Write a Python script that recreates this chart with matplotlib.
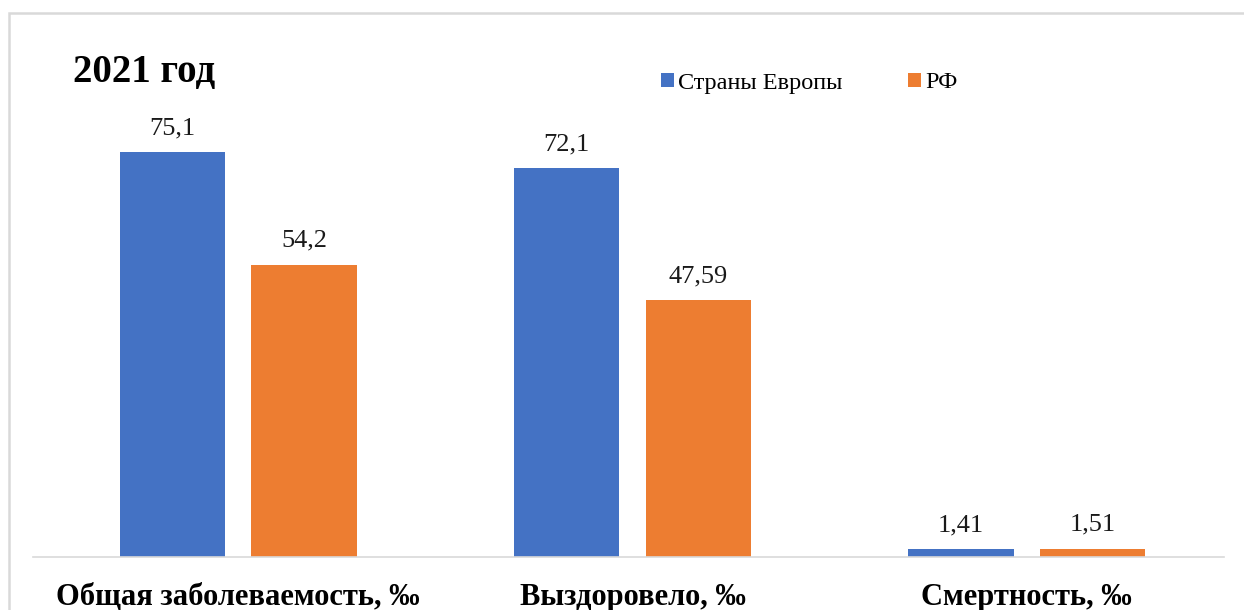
import matplotlib
matplotlib.use("Agg")
import matplotlib.pyplot as plt
from matplotlib.patches import Rectangle
import numpy as np

# Data
categories = ["Общая заболеваемость, ‰", "Выздоровело, ‰", "Смертность, ‰"]
series_names = ["Страны Европы", "РФ"]
europe = [75.1, 72.1, 1.41]
russia = [54.2, 47.59, 1.51]
title = "2021 год"

colors = ["#4472C4", "#ED7D31"]
serif = ["Liberation Serif", "DejaVu Serif"]

W, H = 1244, 610
fig = plt.figure(figsize=(W / 100, H / 100), dpi=100)
fig.patch.set_facecolor("white")

# Light outer frame (chart area border)
fig.patches.append(Rectangle((9 / W, -0.2), 1.2, (H - 13) / H + 0.2,
                             transform=fig.transFigure, fill=False,
                             ec="#D9D9D9", lw=1.8))

# Plot area in pixel terms: baseline at y=557, spanning x 33..1224
left, right, base, top = 33, 1224, 557, 60
ax = fig.add_axes([left / W, (H - base) / H, (right - left) / W, (base - top) / H])

x = np.arange(len(categories))
width = 0.267
offset = 0.167
bars_eu = ax.bar(x - offset, europe, width, color=colors[0], label=series_names[0])
bars_ru = ax.bar(x + offset, russia, width, color=colors[1], label=series_names[1])

ax.set_xlim(-0.52, 2.5)
ax.set_ylim(0, 92.2)

for bars, vals in ((bars_eu, europe), (bars_ru, russia)):
    for b, v in zip(bars, vals):
        ax.annotate(str(v).replace(".", ","),
                    xy=(b.get_x() + b.get_width() / 2, v),
                    xytext=(0, 13), textcoords="offset points",
                    ha="center", va="baseline",
                    fontsize=19, family=serif, color="#1a1a1a")

for s in ("top", "right", "left"):
    ax.spines[s].set_visible(False)
ax.spines["bottom"].set_color("#D9D9D9")
ax.spines["bottom"].set_linewidth(1.2)
ax.set_yticks([])
ax.set_xticks(x)
ax.set_xticklabels(categories, fontsize=22, fontweight="bold", family=serif)
ax.tick_params(axis="x", length=0, pad=18.5)

fig.text(73 / W, 1 - 82 / H, title, fontsize=28, fontweight="bold",
         family=serif, va="baseline", ha="left")

leg = ax.legend(loc="center left", bbox_to_anchor=(661 / W, 1 - 83 / H),
                bbox_transform=fig.transFigure, ncol=2, frameon=False,
                borderpad=0, borderaxespad=0, handlelength=0.55,
                handleheight=0.55, handletextpad=0.15, columnspacing=2.7,
                prop={"family": serif, "size": 17.5})

fig.savefig("out.png", dpi=100)
